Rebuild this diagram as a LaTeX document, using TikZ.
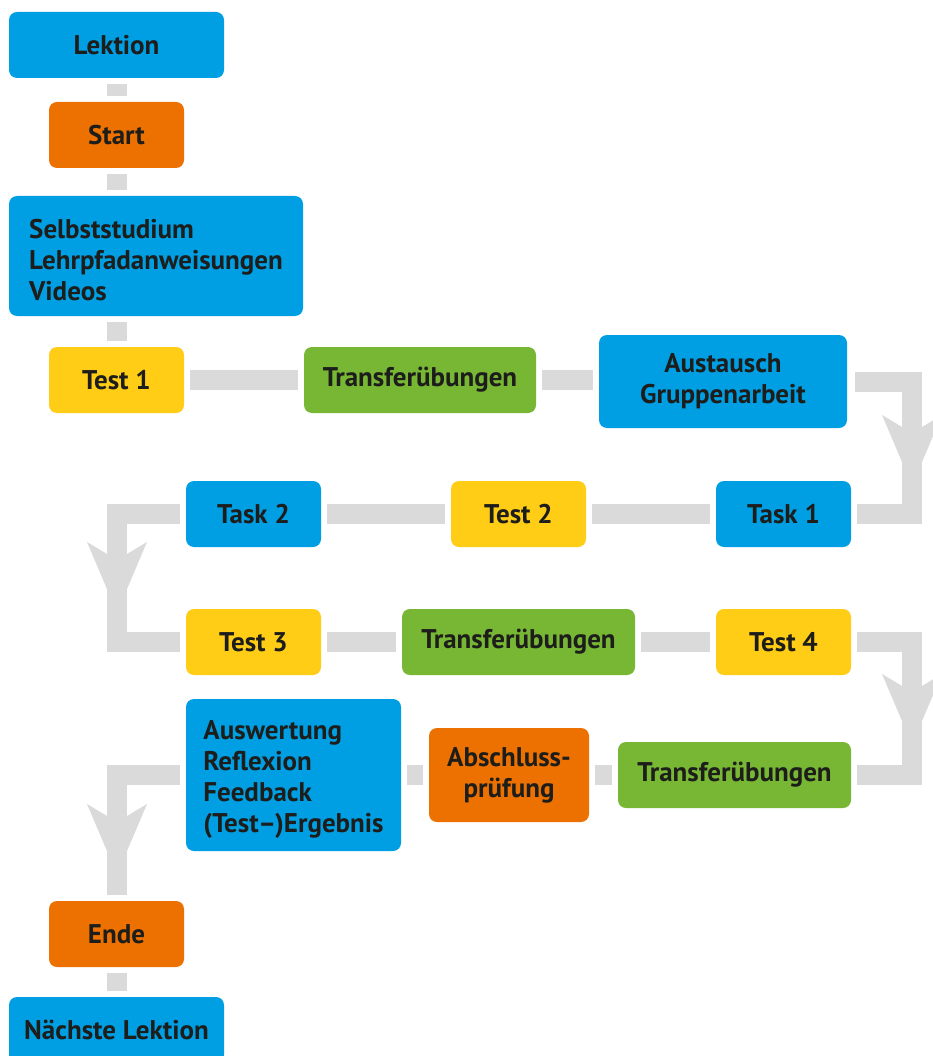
\documentclass[tikz,border=0pt]{standalone}
\usepackage{fontspec}
\setmainfont{PT Sans}
\definecolor{cblue}{RGB}{0,159,227}
\definecolor{corange}{RGB}{237,113,0}
\definecolor{cgreen}{RGB}{119,183,52}
\definecolor{cyellow}{RGB}{255,204,22}
\definecolor{cbar}{RGB}{218,218,218}
\definecolor{ctext}{RGB}{29,29,27}
\newcommand{\toppad}{\rule{0pt}{28pt}}
\begin{document}
\begin{tikzpicture}[x=1pt,y=-1pt,
  box/.style={rounded corners=8pt, inner sep=0pt, minimum height=66pt,
    text=ctext, font=\bfseries\fontsize{27}{31}\selectfont, align=center},
  bluebox/.style={box, fill=cblue},
  orangebox/.style={box, fill=corange},
  greenbox/.style={box, fill=cgreen},
  yellowbox/.style={box, fill=cyellow},
  conn/.style={draw=cbar, line width=20pt, shorten <=6pt, shorten >=6pt},
  elbow/.style={draw=cbar, line width=20pt},
  chev/.pic={\fill[cbar] (-30,0) -- (-10,12) -- (10,12) -- (30,0) -- (10,47) -- (-10,47) -- cycle;}
]
\useasboundingbox (0,0) rectangle (933,1056);
\clip (0,0) rectangle (933,1056);
\fill[white] (0,0) rectangle (933,1056);

% nodes
\node[bluebox, minimum width=215pt] (lek) at (116.5,45) {Lektion};
\node[orangebox, minimum width=135pt] (start) at (116.5,135) {Start};
\node[bluebox, minimum width=294pt, minimum height=120pt, align=left] (selbst) at (156,256) {\toppad Selbststudium\\Lehrpfadanweisungen\\Videos};
\node[yellowbox, minimum width=135pt] (test1) at (116.5,380) {Test 1};
\node[greenbox, minimum width=232pt] (tr1) at (420,380) {Transferübungen};
\node[bluebox, minimum width=248pt, minimum height=93pt] (aus) at (723,381.5) {Austausch\\Gruppenarbeit};

\node[bluebox, minimum width=135pt] (task2) at (253.5,514) {Task 2};
\node[yellowbox, minimum width=135pt] (test2) at (518.5,514) {Test 2};
\node[bluebox, minimum width=135pt] (task1) at (783.5,514) {Task 1};

\node[yellowbox, minimum width=135pt] (test3) at (253.5,642) {Test 3};
\node[greenbox, minimum width=233pt] (tr2) at (518.5,642) {Transferübungen};
\node[yellowbox, minimum width=135pt] (test4) at (783.5,642) {Test 4};

\node[bluebox, minimum width=215pt, minimum height=152pt, align=left] (ausw) at (293.5,775) {\toppad Auswertung\\Reflexion\\Feedback\\(Test–)Ergebnis};
\node[orangebox, minimum width=160pt, minimum height=94pt] (absch) at (509,775) {Abschluss-\\prüfung};
\node[greenbox, minimum width=233pt] (tr3) at (734.5,775) {Transferübungen};

\node[orangebox, minimum width=135pt] (ende) at (116.5,934) {Ende};
\node[bluebox, minimum width=215pt] (naechste) at (116.5,1030) {Nächste Lektion};

% elbow coordinates
\coordinate (r1) at (912,448);
\coordinate (l1) at (117,578);
\coordinate (r2) at (912,708);

% straight connectors
\draw[conn] (lek) -- (start);
\draw[conn] (start.south) -- (start.south |- selbst.north);
\draw[conn] (test1.north |- selbst.south) -- (test1.north);
\draw[conn] (test1) -- (tr1);
\draw[conn] (tr1.east) -- (tr1.east -| aus.west);
\draw[conn] (task2) -- (test2);
\draw[conn] (test2) -- (task1);
\draw[conn] (test3) -- (tr2);
\draw[conn] (tr2) -- (test4);
\draw[conn] (ausw) -- (absch);
\draw[conn] (absch) -- (tr3);
\draw[conn] (ende) -- (naechste);

% elbow connectors
\draw[elbow] ([xshift=8pt]aus.east) -| (r1) |- ([xshift=6pt]task1.east);
\draw[elbow] ([xshift=-6pt]task2.west) -| (l1) |- ([xshift=-6pt]test3.west);
\draw[elbow] ([xshift=6pt]test4.east) -| (r2) |- ([xshift=6pt]tr3.east);
\draw[elbow] ([xshift=-6pt]ausw.west) -| ([yshift=6pt]ende.north);

% arrowheads
\pic at (912,415) {chev};
\pic at (117,542) {chev};
\pic at (912,674) {chev};
\pic at (117,804) {chev};
\end{tikzpicture}
\end{document}
